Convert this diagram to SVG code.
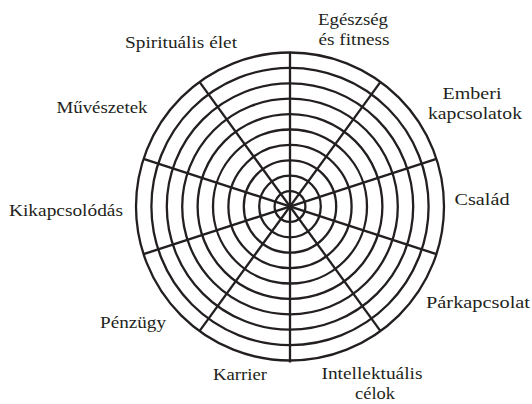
<svg xmlns="http://www.w3.org/2000/svg" width="532" height="404" viewBox="0 0 532 404">
<style>
.ring{fill:none;stroke:#231f20;stroke-width:2.3}
.spoke{stroke:#231f20;stroke-width:2.3;stroke-linecap:butt}
text{font-family:"Liberation Serif","DejaVu Serif",serif;font-size:17.5px;fill:#231f20;text-anchor:middle}
</style>
<rect width="532" height="404" fill="#ffffff"/>
<g id="wheel" transform="translate(290,206.5)">
<g id="rings">
<circle class="ring" r="15.4"/>
<circle class="ring" r="30.8"/>
<circle class="ring" r="46.2"/>
<circle class="ring" r="61.6"/>
<circle class="ring" r="77"/>
<circle class="ring" r="92.4"/>
<circle class="ring" r="107.8"/>
<circle class="ring" r="123.2"/>
<circle class="ring" r="138.6"/>
<circle class="ring" r="154"/>
</g>
<g id="connectors">
<line class="spoke" x1="0" y1="-154" x2="0" y2="156"/>
<line class="spoke" x1="0" y1="-154" x2="0" y2="154" transform="rotate(36)"/>
<line class="spoke" x1="0" y1="-154" x2="0" y2="154" transform="rotate(72)"/>
<line class="spoke" x1="0" y1="-154" x2="0" y2="154" transform="rotate(108)"/>
<line class="spoke" x1="0" y1="-154" x2="0" y2="154" transform="rotate(144)"/>
</g>
</g>
<g id="egeszseg"><text x="353" y="25" textLength="70" lengthAdjust="spacingAndGlyphs">Egészség</text><text x="354" y="45" textLength="71" lengthAdjust="spacingAndGlyphs">és fitness</text></g>
<g id="emberi"><text x="472" y="99" textLength="59" lengthAdjust="spacingAndGlyphs">Emberi</text><text x="475" y="119" textLength="94" lengthAdjust="spacingAndGlyphs">kapcsolatok</text></g>
<g id="csalad"><text x="482" y="205" textLength="55" lengthAdjust="spacingAndGlyphs">Család</text></g>
<g id="parkapcsolat"><text x="478" y="308" textLength="104" lengthAdjust="spacingAndGlyphs">Párkapcsolat</text></g>
<g id="intellektualis"><text x="372" y="379" textLength="101" lengthAdjust="spacingAndGlyphs">Intellektuális</text><text x="375" y="399" textLength="40" lengthAdjust="spacingAndGlyphs">célok</text></g>
<g id="karrier"><text x="240" y="380" textLength="54" lengthAdjust="spacingAndGlyphs">Karrier</text></g>
<g id="penzugy"><text x="133" y="328" textLength="66" lengthAdjust="spacingAndGlyphs">Pénzügy</text></g>
<g id="kikapcsolodas"><text x="66" y="216" textLength="114" lengthAdjust="spacingAndGlyphs">Kikapcsolódás</text></g>
<g id="muveszetek"><text x="102" y="113" textLength="91" lengthAdjust="spacingAndGlyphs">Művészetek</text></g>
<g id="spiritualis"><text x="181" y="48" textLength="112" lengthAdjust="spacingAndGlyphs">Spirituális élet</text></g>
</svg>
